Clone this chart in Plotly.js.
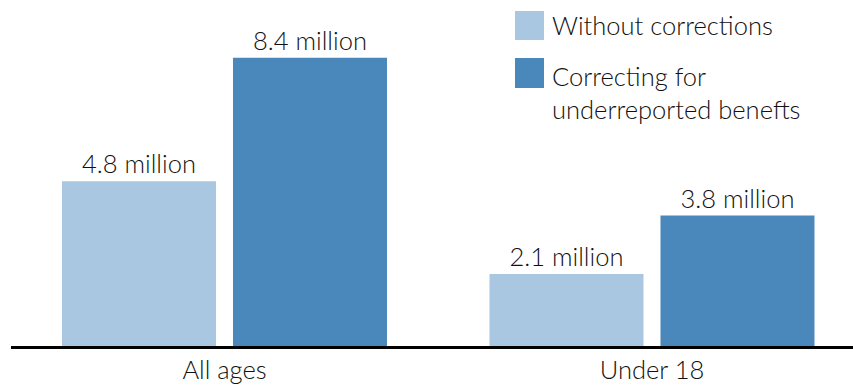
<!DOCTYPE html>
<html>
<head>
<meta charset="utf-8">
<script src="https://cdn.plot.ly/plotly-3.0.1.min.js"></script>
<style>html,body{margin:0;padding:0;background:#fff;}#chart{width:853px;height:388px;}</style>
</head>
<body>
<div id="chart"></div>
<script>
// Data
const categories = ["All ages", "Under 18"];
const seriesNames = ["Without corrections", "Correcting for<br>underreported benefts"];
const withoutCorrections = [4.8, 2.1];
const correctingUnderreported = [8.4, 3.8];
const valueLabelsWithout = ["4.8 million", "2.1 million"];
const valueLabelsCorrecting = ["8.4 million", "3.8 million"];
const colors = ["#A9C7E0", "#4A88BB"];

const W = 853, H = 388;
const mL = 11, mR = 0, mT = 0, mB = 42;
const pw = W - mL - mR, ph = H - mT - mB;
const px = x => (x - mL) / pw;           // pixel -> paper x
const py = y => (H - mB - y) / ph;        // pixel -> paper y

const catIdx = categories.map((c, i) => i);
const fontFam = "Lato, 'Open Sans', sans-serif";
const textCol = "#111111";
const fs = 25.5;
const fw = 300;

const traces = [
  {type: "bar", x: catIdx, y: withoutCorrections, name: seriesNames[0],
   marker: {color: colors[0]}, text: valueLabelsWithout, textposition: "outside",
   textfont: {family: fontFam, size: fs, color: textCol, weight: fw}, cliponaxis: false, hoverinfo: "none"},
  {type: "bar", x: catIdx, y: correctingUnderreported, name: seriesNames[1],
   marker: {color: colors[1]}, text: valueLabelsCorrecting, textposition: "outside",
   textfont: {family: fontFam, size: fs, color: textCol, weight: fw}, cliponaxis: false, hoverinfo: "none"}
];

const legendItems = [
  {sq: [515, 11, 544, 40], tx: 550, ty: 25.5, yanchor: "middle"},
  {sq: [515, 58, 544, 88], tx: 550, ty: 59, yanchor: "top"}
];

const shapes = legendItems.map((it, i) => ({
  type: "rect", xref: "paper", yref: "paper",
  x0: px(it.sq[0]), x1: px(it.sq[2]), y0: py(it.sq[3]), y1: py(it.sq[1]),
  fillcolor: colors[i], line: {width: 0}
}));
const annotations = legendItems.map((it, i) => ({
  xref: "paper", yref: "paper", x: px(it.tx), y: py(it.ty),
  xanchor: "left", yanchor: it.yanchor, align: "left", showarrow: false,
  text: seriesNames[i], font: {family: fontFam, size: fs, color: textCol, weight: fw}
}));

const layout = {
  width: W, height: H,
  margin: {l: mL, r: mR, t: mT, b: mB, pad: 0},
  paper_bgcolor: "#ffffff", plot_bgcolor: "#ffffff",
  barmode: "group", bargap: 0.2, bargroupgap: 0.0994,
  showlegend: false,
  font: {family: fontFam, size: fs, color: textCol, weight: fw},
  xaxis: {
    range: [-0.4994, 1.4702], tickvals: catIdx, ticktext: categories,
    showline: true, linecolor: "#000000", linewidth: 2.5,
    showgrid: false, zeroline: false, ticks: "", ticklen: 2, fixedrange: true,
    tickfont: {family: fontFam, size: fs, color: textCol, weight: fw}
  },
  yaxis: {
    range: [0, 10.08], visible: false, showgrid: false, zeroline: false, fixedrange: true
  },
  shapes: shapes,
  annotations: annotations
};

Plotly.newPlot("chart", traces, layout, {displayModeBar: false, staticPlot: true});
</script>
</body>
</html>
